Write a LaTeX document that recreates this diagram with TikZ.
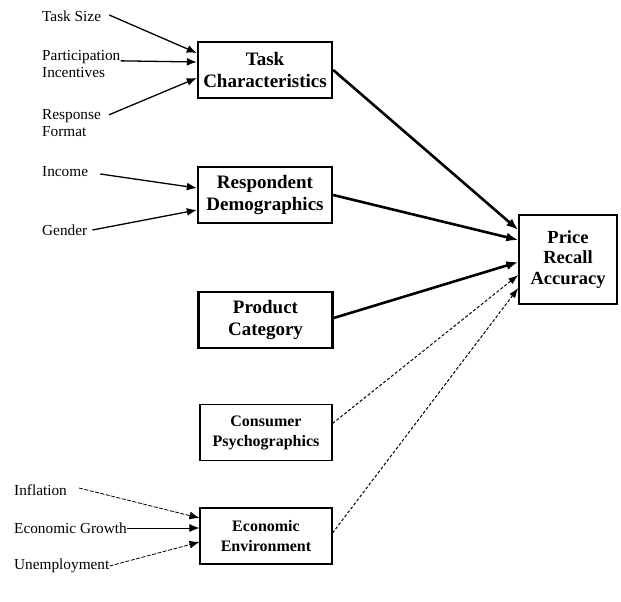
\documentclass[tikz,border=0pt]{standalone}
\usepackage{fontspec}
\setmainfont{Liberation Serif}
\usetikzlibrary{arrows.meta}
\begin{document}
\begin{tikzpicture}[x=1pt,y=1pt,
  lbl/.style={inner sep=0pt, font=\fontsize{15.3}{17}\selectfont, align=left},
  bigbox/.style={draw, line width=2.4pt, minimum width=134pt, minimum height=56pt, inner sep=0pt, align=center, font=\bfseries\fontsize{19}{22}\selectfont},
  smallbox/.style={draw, line width=1.1pt, minimum width=132pt, minimum height=56pt, inner sep=0pt, align=center, font=\bfseries\fontsize{16}{20}\selectfont},
  pricebox/.style={draw, line width=1.4pt, minimum width=98pt, minimum height=89pt, inner sep=0pt, align=center, font=\bfseries\fontsize{18.5}{20.5}\selectfont},
  strong/.style={-{Latex[length=12pt,width=9pt]}, line width=2.6pt},
  weak/.style={-{Latex[length=10pt,width=7pt]}, line width=1pt, dash pattern=on 3pt off 2pt},
  feed/.style={-{Latex[length=10pt,width=8pt]}, line width=1.3pt},
  feedthin/.style={-{Latex[length=10pt,width=8pt]}, line width=0.8pt, dash pattern=on 4pt off 1.5pt},
  feedsolid/.style={-{Latex[length=10pt,width=8pt]}, line width=0.9pt}
]
\useasboundingbox (0,0) rectangle (621,-602);

% main boxes
\node[bigbox] (task) at (265,-70) {Task\\Characteristics};
\node[bigbox] (resp) at (265,-195) {Respondent\\Demographics};
\node[bigbox] (prod) at (265.5,-320) {Product\\Category};
\node[smallbox] (psy) at (266,-432.5) {Consumer\\Psychographics};
\node[smallbox] (econ) at (266,-536) {Economic\\Environment};
\node[pricebox] (price) at (568,-259.5) {Price\\Recall\\Accuracy};

% side labels
\node[lbl, anchor=west] (tsize) at (42,-16) {Task Size};
\node[lbl, anchor=north west] (partic) at (42,-50) {Participation\\Incentives};
\node[lbl, anchor=north west] (resf) at (42,-109) {Response\\Format};
\node[lbl, anchor=west] (inc) at (42,-172) {Income};
\node[lbl, anchor=west] (gen) at (42,-230) {Gender};
\node[lbl, anchor=west] (infl) at (14,-490) {Inflation};
\node[lbl, anchor=west] (grow) at (14,-528) {Economic Growth};
\node[lbl, anchor=west] (unemp) at (14,-566) {Unemployment};

% feeders
\draw[feed] ([xshift=8pt,yshift=1pt]tsize.east) -- ([yshift=17pt]task.west);
\draw[feed] ([yshift=3pt]partic.east) -- ([yshift=8pt]task.west);
\draw[feed] ([xshift=8pt,yshift=8pt]resf.east) -- ([yshift=-8pt]task.west);
\draw[feed] ([xshift=12pt,yshift=-2pt]inc.east) -- ([yshift=7pt]resp.west);
\draw[feed] ([xshift=5pt]gen.east) -- ([yshift=-15pt]resp.west);
\draw[feedthin] ([xshift=12pt,yshift=2pt]infl.east) -- ([yshift=18pt]econ.west);
\draw[feedsolid] (grow.east) -- ([yshift=8pt]econ.west);
\draw[feedthin] (unemp.east) -- ([yshift=-6pt]econ.west);

% main connectors
\draw[strong] (task.east) -- ([yshift=29.5pt]price.west);
\draw[strong] (resp.east) -- ([yshift=19.5pt]price.west);
\draw[strong] ([yshift=2pt]prod.east) -- ([yshift=-2.5pt]price.west);
\draw[weak] ([yshift=9pt]psy.east) -- ([yshift=-15.5pt]price.west);
\draw[weak] ([yshift=3pt]econ.east) -- ([yshift=-28.5pt]price.west);
\end{tikzpicture}
\end{document}
